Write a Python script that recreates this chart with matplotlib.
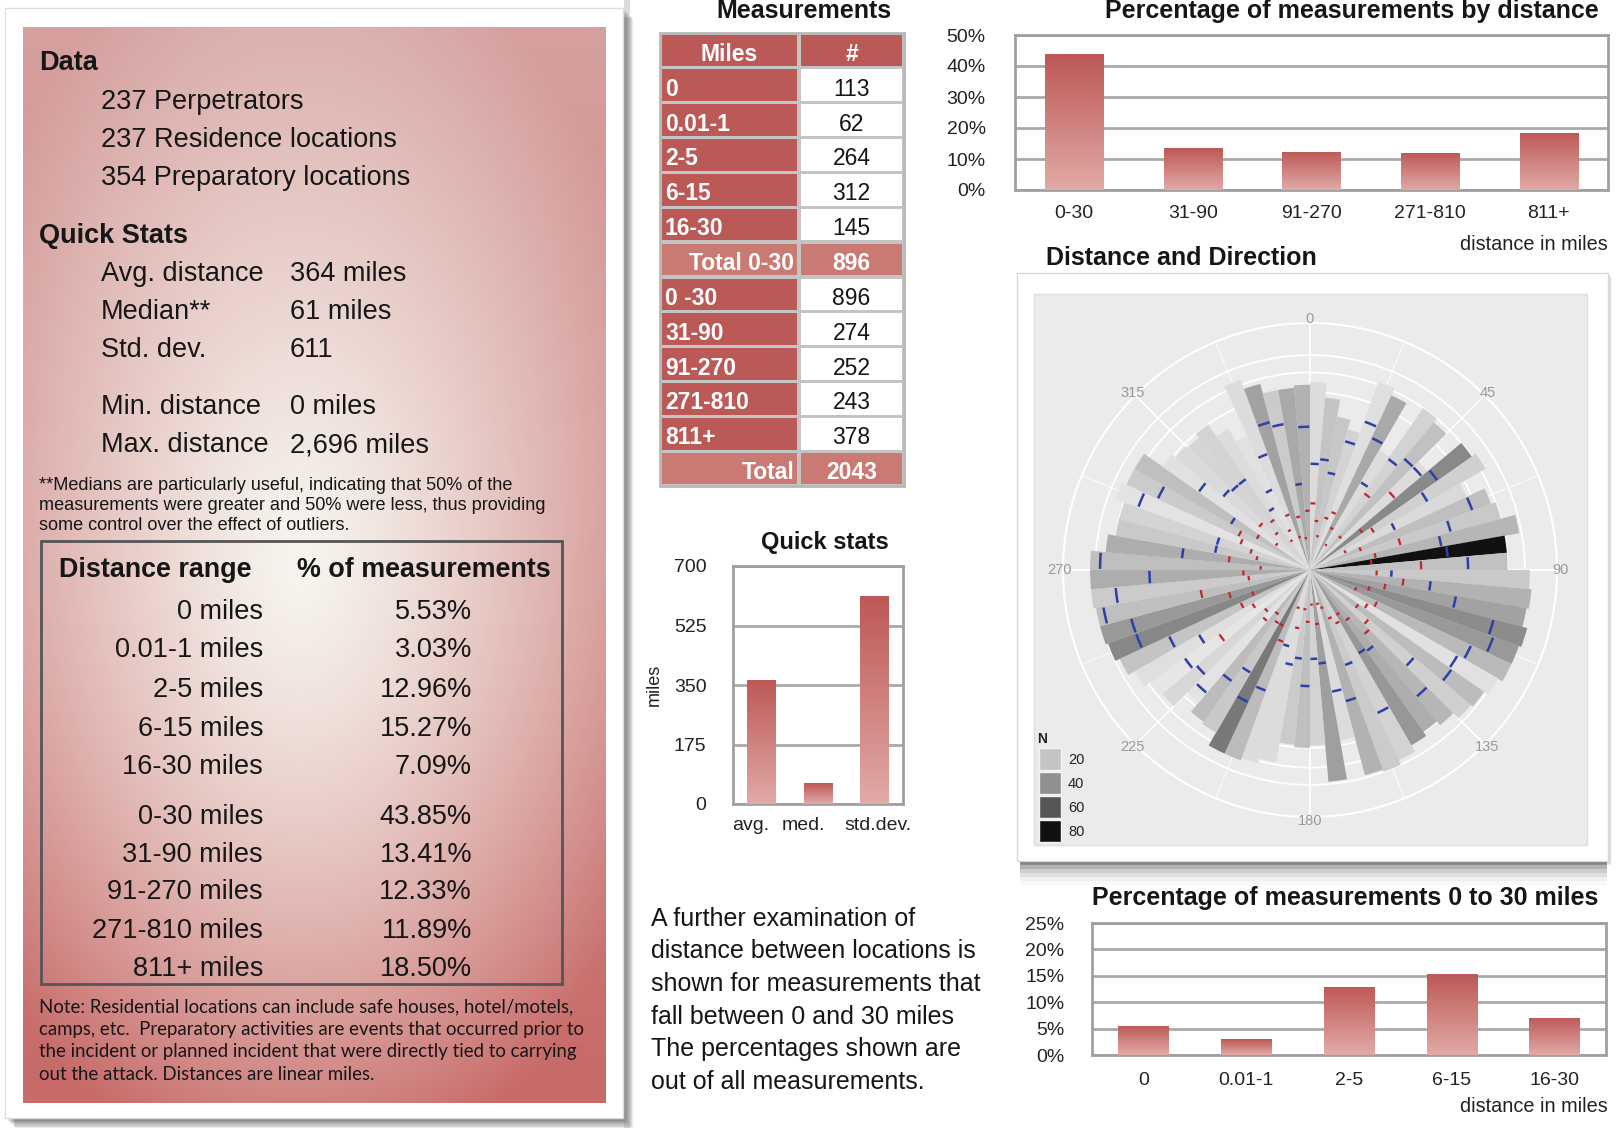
import numpy as np
import matplotlib
matplotlib.use('Agg')
import matplotlib.pyplot as plt
from matplotlib.patches import Rectangle
from matplotlib.colors import LinearSegmentedColormap, Normalize

W, H = 1616, 1128
plt.rcParams['font.family'] = ['Liberation Sans', 'DejaVu Sans']

# ---------------- data ----------------
data_lines = ['237 Perpetrators', '237 Residence locations', '354 Preparatory locations']
stat_names = ['Avg. distance', 'Median**', 'Std. dev.', 'Min. distance', 'Max. distance']
stat_values = ['364 miles', '61 miles', '611', '0 miles', '2,696 miles']
range_labels = ['0 miles', '0.01-1 miles', '2-5 miles', '6-15 miles', '16-30 miles',
                '0-30 miles', '31-90 miles', '91-270 miles', '271-810 miles', '811+ miles']
range_pcts = [5.53, 3.03, 12.96, 15.27, 7.09, 43.85, 13.41, 12.33, 11.89, 18.50]
table_miles = ['0', '0.01-1', '2-5', '6-15', '16-30', 'Total 0-30',
               '0 -30', '31-90', '91-270', '271-810', '811+', 'Total']
table_counts = [113, 62, 264, 312, 145, 896, 896, 274, 252, 243, 378, 2043]
quick_labels = ['avg.', 'med.', 'std.dev.']
quick_values = [364, 61, 611]
dist_cats = ['0-30', '31-90', '91-270', '271-810', '811+']
dist_pcts = [43.85, 13.41, 12.33, 11.89, 18.50]
near_cats = ['0', '0.01-1', '2-5', '6-15', '16-30']
near_pcts = [5.53, 3.03, 12.96, 15.27, 7.09]

dir_start = list(range(0, 360, 5))
dir_radius = [0.76, 0.70, 0.63, 0.59, 0.81, 0.78, 0.56, 0.80, 0.78, 0.62, 0.80, 0.82,
              0.70, 0.78, 0.80, 0.86, 0.80, 0.80, 0.89, 0.90, 0.89, 0.91, 0.90, 0.90,
              0.88, 0.86, 0.85, 0.82, 0.80, 0.82, 0.85, 0.87, 0.86, 0.70, 0.86, 0.71,
              0.72, 0.71, 0.79, 0.81, 0.82, 0.82, 0.76, 0.75, 0.70, 0.78, 0.79, 0.82,
              0.85, 0.87, 0.88, 0.88, 0.89, 0.89, 0.89, 0.83, 0.80, 0.80, 0.84, 0.82,
              0.82, 0.73, 0.71, 0.70, 0.72, 0.66, 0.60, 0.82, 0.78, 0.74, 0.74, 0.75]
dir_n = [10, 20, 19, 14, 9, 30, 10, 14, 21, 10, 42, 15,
         11, 22, 18, 25, 82, 21, 18, 27, 33, 41, 36, 24,
         8, 23, 15, 25, 29, 37, 14, 17, 27, 10, 34, 14,
         22, 17, 10, 10, 23, 48, 18, 23, 7, 12, 6, 9,
         20, 43, 36, 22, 17, 29, 22, 29, 18, 14, 7, 17,
         22, 8, 11, 13, 14, 10, 8, 10, 33, 17, 30, 27]
dir_blue = [0.43, 0.45, 0.40, 0.54, 0.64, 0.59, 0.41, 0.55, 0.59, 0.59, 0.63, 0.55,
            0.38, 0.70, 0.59, 0.54, 0.56, 0.64, 0.33, 0.49, 0.60, 0.77, 0.79, 0.72,
            0.69, 0.70, 0.55, 0.67, 0.40, 0.39, 0.64, 0.41, 0.55, 0.50, 0.38, 0.36,
            0.47, 0.36, 0.39, 0.32, 0.52, 0.59, 0.48, 0.55, 0.65, 0.60, 0.62, 0.52,
            0.63, 0.75, 0.75, 0.85, 0.79, 0.65, 0.85, 0.52, 0.39, 0.39, 0.74, 0.68,
            0.37, 0.55, 0.46, 0.45, 0.45, 0.29, 0.36, 0.50, 0.62, 0.60, 0.35, 0.58]
dir_red = [0.27, 0.20, 0.14, 0.22, 0.25, 0.19, 0.12, 0.38, 0.18, 0.45, 0.26, 0.30,
           0.16, 0.22, 0.38, 0.27, 0.25, 0.45, 0.27, 0.38, 0.31, 0.25, 0.20, 0.30,
           0.27, 0.24, 0.31, 0.34, 0.25, 0.21, 0.24, 0.21, 0.16, 0.14, 0.22, 0.14,
           0.21, 0.16, 0.24, 0.16, 0.31, 0.25, 0.25, 0.22, 0.27, 0.24, 0.45, 0.27,
           0.31, 0.25, 0.34, 0.45, 0.25, 0.27, 0.20, 0.33, 0.22, 0.25, 0.30, 0.32,
           0.25, 0.17, 0.27, 0.20, 0.25, 0.14, 0.18, 0.24, 0.14, 0.22, 0.13, 0.24]
dir_rings = [0.72, 0.80, 0.87]
legend_levels = [20, 40, 60, 80]

# ---------------- helpers ----------------
fig = plt.figure(figsize=(W / 100, H / 100), dpi=100)
fig.patch.set_facecolor('white')
cv = fig.add_axes([0, 0, 1, 1])
cv.set_xlim(0, W)
cv.set_ylim(H, 0)
cv.axis('off')


def rect_axes(x0, y0, x1, y1, **kw):
    return fig.add_axes([x0 / W, 1 - y1 / H, (x1 - x0) / W, (y1 - y0) / H], **kw)


def shadow(x0, y0, x1, y1, off=6, n=6, alpha=0.05):
    for i in range(n):
        d = off * (i + 1) / n
        cv.add_patch(Rectangle((x0 + d, y0 + d), x1 - x0, y1 - y0,
                               facecolor='black', edgecolor='none', alpha=alpha, zorder=0))


TXT = '#161616'
DY = 3  # text baseline nudge

# ---------------- left card ----------------
shadow(5, 8, 623, 1118, off=10, n=8, alpha=0.08)
cv.add_patch(Rectangle((5, 8), 618, 1110, facecolor='white', edgecolor='#dddddd', lw=1, zorder=1))

px0, py0, px1, py1 = 23, 27, 606, 1103
nx, ny = 300, 540
X, Y = np.meshgrid(np.linspace(px0, px1, nx), np.linspace(py0, py1, ny))
d = np.sqrt(((X - 300) / 390) ** 2 + ((Y - 560) / 640) ** 2)
t = np.clip(d, 0, 1) ** 1.25
s = ((Y - py0) / (py1 - py0))[..., None]
top_c = np.array([213, 160, 158])
bot_c = np.array([199, 106, 104])
edge = top_c * (1 - s) + bot_c * s
cen = np.array([247, 245, 239])
img = (cen + (edge - cen) * t[..., None]) / 255
cv.imshow(img, extent=(px0, px1, py1, py0), aspect='auto', zorder=2, interpolation='bilinear')
cv.set_xlim(0, W)
cv.set_ylim(H, 0)

cv.text(39, 60 + DY, 'Data', fontsize=19.5, fontweight='bold', color=TXT, va='center', zorder=5)
for i, line in enumerate(data_lines):
    cv.text(101, [99, 137, 175][i] + DY, line, fontsize=19.5, color=TXT, va='center', zorder=5)
cv.text(39, 233 + DY, 'Quick Stats', fontsize=19.5, fontweight='bold', color=TXT, va='center', zorder=5)
for name, val, y in zip(stat_names, stat_values, [271, 309, 347, 404, 442]):
    cv.text(101, y + DY, name, fontsize=19.5, color=TXT, va='center', zorder=5)
    cv.text(290, y + DY, val, fontsize=19.5, color=TXT, va='center', zorder=5)
foot = ['**Medians are particularly useful, indicating that 50% of the',
        'measurements were greater and 50% were less, thus providing',
        'some control over the effect of outliers.']
for line, y in zip(foot, [483, 503, 524]):
    cv.text(39, y + 2, line, fontsize=13.1, color=TXT, va='center', zorder=5)

cv.add_patch(Rectangle((41, 541), 521, 443, facecolor='none', edgecolor='#555555', lw=2, zorder=5))
cv.text(59, 567 + DY, 'Distance range', fontsize=19.4, fontweight='bold', color=TXT, va='center', zorder=5)
cv.text(297, 567 + DY, '% of measurements', fontsize=19.4, fontweight='bold', color=TXT, va='center', zorder=5)
row_y = [609, 647, 687, 726, 764, 814, 852, 889, 928, 966]
for lab, pct, y in zip(range_labels, range_pcts, row_y):
    cv.text(263, y + DY, lab, fontsize=19.5, color=TXT, va='center', ha='right', zorder=5)
    cv.text(472, y + DY, f'{pct:.2f}%', fontsize=19.5, color=TXT, va='center', ha='right', zorder=5)
note = ['Note: Residential locations can include safe houses, hotel/motels,',
        'camps, etc.  Preparatory activities are events that occurred prior to',
        'the incident or planned incident that were directly tied to carrying',
        'out the attack. Distances are linear miles.']
for line, y in zip(note, [1005, 1027, 1050, 1073]):
    cv.text(39, y + 2, line, fontsize=13.4, color=TXT, va='center', zorder=5, family=['Lato', 'DejaVu Sans'])

# vertical shadow between columns
cv.add_patch(Rectangle((624, 0), 6, 1128, facecolor='#9a9a9a', edgecolor='none', alpha=0.35, zorder=0))

# ---------------- Measurements table ----------------
RED = '#bb5956'
LRED = '#c97b73'
cv.text(804, 11, 'Measurements', fontsize=18, fontweight='bold', color=TXT, ha='center', va='center')
tx0, tx1, tmid, ty0, ty1 = 660, 904, 799, 33, 486
rh = (ty1 - ty0) / 13
TDY = 4
cv.add_patch(Rectangle((tx0, ty0), tx1 - tx0, ty1 - ty0, facecolor='#c4c4c4', edgecolor='#b8b8b8', lw=2, zorder=2))
g = 1.6
cv.add_patch(Rectangle((tx0 + g, ty0 + g), tmid - tx0 - 2 * g, rh - 2 * g, facecolor=RED, edgecolor='none', zorder=3))
cv.add_patch(Rectangle((tmid + g, ty0 + g), tx1 - tmid - 2 * g, rh - 2 * g, facecolor=RED, edgecolor='none', zorder=3))
cv.text((tx0 + tmid) / 2, ty0 + rh / 2 + TDY, 'Miles', fontsize=16.5, fontweight='bold', color='white', ha='center', va='center', zorder=4)
cv.text((tmid + tx1) / 2, ty0 + rh / 2 + TDY, '#', fontsize=16.5, fontweight='bold', color='white', ha='center', va='center', zorder=4)
for i, (lab, cnt) in enumerate(zip(table_miles, table_counts)):
    y = ty0 + rh * (i + 1)
    is_total = lab.startswith('Total')
    c1 = LRED if is_total else RED
    c2 = LRED if is_total else 'white'
    cv.add_patch(Rectangle((tx0 + g, y + g), tmid - tx0 - 2 * g, rh - 2 * g, facecolor=c1, edgecolor='none', zorder=3))
    cv.add_patch(Rectangle((tmid + g, y + g), tx1 - tmid - 2 * g, rh - 2 * g, facecolor=c2, edgecolor='none', zorder=3))
    yc = y + rh / 2 + TDY
    if is_total:
        cv.text(tmid - 5, yc, lab, fontsize=16.5, fontweight='bold', color='white', ha='right', va='center', zorder=4)
        cv.text((tmid + tx1) / 2, yc, str(cnt), fontsize=16.5, fontweight='bold', color='white', ha='center', va='center', zorder=4)
    else:
        cv.text(tx0 + 5, yc, lab, fontsize=16.5, fontweight='bold', color='white', ha='left', va='center', zorder=4)
        cv.text((tmid + tx1) / 2, yc, str(cnt), fontsize=16.5, color=TXT, ha='center', va='center', zorder=4)

# ---------------- gradient bars ----------------
TOPC = np.array([189, 89, 86]) / 255
BOTC = np.array([225, 170, 167]) / 255


def grad_fill(ax, patch):
    x0, y0 = patch.get_x(), patch.get_y()
    w, h = patch.get_width(), patch.get_height()
    gg = np.linspace(0, 1, 120)[:, None]
    cols = BOTC + (TOPC - BOTC) * gg
    im = ax.imshow(cols.reshape(120, 1, 3), extent=(x0, x0 + w, y0, y0 + h), origin='lower',
                   aspect='auto', zorder=3, interpolation='bilinear')
    im.set_clip_path(patch)


def bar_chart(ax, cats, vals, ymax, step, labfmt, ypad, xpad, width, label_pos=None):
    bars = ax.bar(range(len(cats)), vals, width=width, color='none', edgecolor='none', zorder=3)
    for p in bars:
        grad_fill(ax, p)
    ax.set_xlim(-0.5, len(cats) - 0.5)
    ax.set_ylim(0, ymax)
    ticks = np.arange(0, ymax + step / 2, step)
    ax.set_yticks(ticks)
    ax.set_yticklabels([labfmt(v) for v in ticks])
    ax.set_xticks(range(len(cats)) if label_pos is None else label_pos)
    ax.set_xticklabels(cats)
    ax.tick_params(length=0, labelsize=14, colors='#222222')
    ax.tick_params(axis='y', pad=ypad)
    ax.tick_params(axis='x', pad=xpad)
    ax.grid(axis='y', color='#a9a9a9', lw=2)
    ax.grid(axis='x', visible=False)
    ax.set_axisbelow(True)
    ax.set_facecolor('white')
    for sp in ax.spines.values():
        sp.set_color('#a0a0a0')
        sp.set_linewidth(2)


# quick stats
ax_q = rect_axes(733, 566, 903, 804)
bar_chart(ax_q, quick_labels, quick_values, 700, 175, lambda v: f'{int(v)}', 19, 9, 0.51,
          label_pos=[-0.19, 0.74, 2.06])
ax_q.set_ylabel('miles', fontsize=13, color='#222222', labelpad=8)
cv.text(825, 542, 'Quick stats', fontsize=17, fontweight='bold', color=TXT, ha='center', va='center')

para = ['A further examination of', 'distance between locations is', 'shown for measurements that',
        'fall between 0 and 30 miles', 'The percentages shown are', 'out of all measurements.']
for line, y in zip(para, [917, 949, 982, 1015, 1047, 1080]):
    cv.text(651, y + 2, line, fontsize=18, color=TXT, va='center')

# top right chart
ax_t = rect_axes(1015, 35, 1608, 190)
bar_chart(ax_t, dist_cats, dist_pcts, 50, 10, lambda v: f'{int(v)}%', 21, 11, 0.49)
cv.text(1352, 11, 'Percentage of measurements by distance', fontsize=18, fontweight='bold', color=TXT, ha='center', va='center')
cv.text(1608, 245, 'distance in miles', fontsize=14.3, color='#222222', ha='right', va='center')

# bottom right chart
ax_b = rect_axes(1092, 923, 1606, 1055)
bar_chart(ax_b, near_cats, near_pcts, 25, 5, lambda v: f'{int(v)}%', 20, 12, 0.49)
cv.text(1345, 898, 'Percentage of measurements 0 to 30 miles', fontsize=18, fontweight='bold', color=TXT, ha='center', va='center')
cv.text(1608, 1106, 'distance in miles', fontsize=14.3, color='#222222', ha='right', va='center')

# ---------------- polar card ----------------
cv.text(1046, 258, 'Distance and Direction', fontsize=18, fontweight='bold', color=TXT, va='center')
for i, a in enumerate([0.16, 0.12, 0.09, 0.06, 0.04, 0.025]):
    cv.add_patch(Rectangle((1020, 861), 587, 4 + i * 4, facecolor='black', edgecolor='none', alpha=a, zorder=0))
shadow(1017, 273, 1608, 861, off=4, n=4, alpha=0.05)
cv.add_patch(Rectangle((1017, 273), 591, 588, facecolor='white', edgecolor='#d8d8d8', lw=1, zorder=1))
cv.add_patch(Rectangle((1034, 294), 553, 551, facecolor='#ebebeb', edgecolor='#dedede', lw=1, zorder=2))

cmap = LinearSegmentedColormap.from_list('n', [(0, '#f4f4f4'), (0.25, '#c4c4c4'), (0.5, '#8f8f8f'),
                                               (0.75, '#575757'), (1, '#111111')])
norm = Normalize(0, 80)

R = 247
CX, CY = 1310, 570
pax = rect_axes(CX - R, CY - R, CX + R, CY + R, projection='polar')
pax.set_theta_zero_location('N')
pax.set_theta_direction(-1)
pax.set_facecolor('#ebebeb')
theta = np.deg2rad(np.array(dir_start) + 2.5)
pax.bar(theta, dir_radius, width=np.deg2rad(5.05), color=cmap(norm(np.array(dir_n))),
        edgecolor='none', linewidth=0, zorder=2)
for a in np.arange(22.5, 360, 45):
    pax.plot([np.deg2rad(a)] * 2, [0, 1], color='white', lw=0.6, zorder=1)
for s0, b, r in zip(dir_start, dir_blue, dir_red):
    tb = np.deg2rad(np.linspace(s0 + 0.3, s0 + 4.7, 10))
    pax.plot(tb, [b] * 10, color='#2e3fa5', lw=1.8, solid_capstyle='butt', zorder=4)
    tr = np.deg2rad(np.linspace(s0 + 0.4, s0 + 4.6, 10))
    pax.plot(tr, [r] * 10, color='#c0272d', lw=1.6, solid_capstyle='butt', zorder=4)
pax.set_ylim(0, 1)
pax.set_rgrids(dir_rings, labels=['' for _ in dir_rings])
angles = np.arange(0, 360, 45)
pax.set_thetagrids(angles, labels=['' for _ in angles])
pax.grid(True, color='white', lw=1.3)
pax.set_axisbelow(True)
pax.spines['polar'].set_color('white')
pax.spines['polar'].set_linewidth(1.5)
pax.tick_params(axis='both', length=0)
for a in angles:
    pax.text(np.deg2rad(a), 1.015, str(a), color='#9a9a9a', fontsize=10.5, ha='center', va='center',
             zorder=6)

# legend
cv.text(1037, 739, 'N', fontsize=10, fontweight='bold', color='#222222', va='center', zorder=5)
for i, lv in enumerate(legend_levels):
    y = 748 + i * 24
    cv.add_patch(Rectangle((1039, y), 22, 22, facecolor=cmap(norm(lv)), edgecolor='#f4f4f4', lw=1, zorder=5))
    cv.text(1068, y + 12, str(lv), fontsize=10.5, color='#222222', va='center', zorder=5)

fig.savefig('out.png', dpi=100)
